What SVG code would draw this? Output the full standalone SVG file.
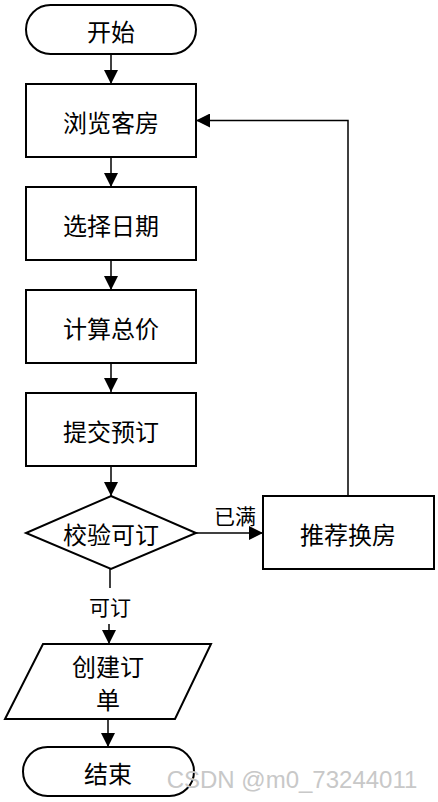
<svg xmlns="http://www.w3.org/2000/svg" width="438" height="802" viewBox="0 0 438 802">
<defs>
<marker id="ah" markerWidth="14" markerHeight="14" viewBox="0 0 14 14" refX="14" refY="7" orient="auto" markerUnits="userSpaceOnUse">
<path d="M0,0 L14,7 L0,14 Z" fill="#000"/>
</marker>
</defs>
<style>
.s{fill:#fff;stroke:#000;stroke-width:2}
.t{font-family:"Noto Sans CJK SC","Noto Sans",sans-serif;font-size:24px;fill:#000;text-anchor:middle;dominant-baseline:central}
.l{font-family:"Noto Sans CJK SC","Noto Sans",sans-serif;font-size:21px;fill:#000;text-anchor:middle;dominant-baseline:central}
.c{fill:none;stroke:#000;stroke-width:1.5}
</style>
<rect width="438" height="802" fill="#fff"/>
<g id="connectors">
<line class="c" x1="111" y1="54" x2="111" y2="84" marker-end="url(#ah)"/>
<line class="c" x1="111" y1="157" x2="111" y2="187" marker-end="url(#ah)"/>
<line class="c" x1="111" y1="260" x2="111" y2="290" marker-end="url(#ah)"/>
<line class="c" x1="111" y1="363" x2="111" y2="392" marker-end="url(#ah)"/>
<line class="c" x1="111" y1="466" x2="111" y2="496" marker-end="url(#ah)"/>
<line class="c" x1="196" y1="533" x2="263" y2="533" marker-end="url(#ah)"/>
<polyline class="c" points="348,496 348,120.5 196,120.5" marker-end="url(#ah)"/>
<line class="c" x1="110" y1="569" x2="110" y2="588"/>
<line class="c" x1="109" y1="624" x2="109" y2="644" marker-end="url(#ah)"/>
<line class="c" x1="108" y1="719" x2="108" y2="747" marker-end="url(#ah)"/>
<text class="l" x="235" y="515">已满</text>
<text class="l" x="110" y="606">可订</text>
</g>
<g id="start">
<rect class="s" x="26" y="5" width="170" height="49" rx="24.5"/>
<text class="t" x="111" y="30">开始</text>
</g>
<g id="browse">
<rect class="s" x="26" y="84" width="170" height="73"/>
<text class="t" x="111" y="121">浏览客房</text>
</g>
<g id="date">
<rect class="s" x="26" y="187" width="170" height="73"/>
<text class="t" x="111" y="224">选择日期</text>
</g>
<g id="price">
<rect class="s" x="26" y="290" width="170" height="73"/>
<text class="t" x="111" y="327">计算总价</text>
</g>
<g id="submit">
<rect class="s" x="26" y="393" width="170" height="73"/>
<text class="t" x="111" y="430">提交预订</text>
</g>
<g id="check">
<polygon class="s" points="111,496 196,533 111,569 26,533"/>
<text class="t" x="111" y="533">校验可订</text>
</g>
<g id="recommend">
<rect class="s" x="263" y="496" width="171" height="73"/>
<text class="t" x="348" y="533">推荐换房</text>
</g>
<g id="create">
<polygon class="s" points="43,644 211,644 175,719 5,719"/>
<text class="t" x="108" y="665">创建订</text>
<text class="t" x="108" y="698">单</text>
</g>
<g id="end">
<rect class="s" x="23" y="747" width="171" height="49" rx="24.5"/>
<text class="t" x="108" y="772">结束</text>
</g>
<text x="292" y="788" font-family="Liberation Sans, sans-serif" font-size="24" fill="#c8c8c8" text-anchor="middle">CSDN @m0_73244011</text>
</svg>
